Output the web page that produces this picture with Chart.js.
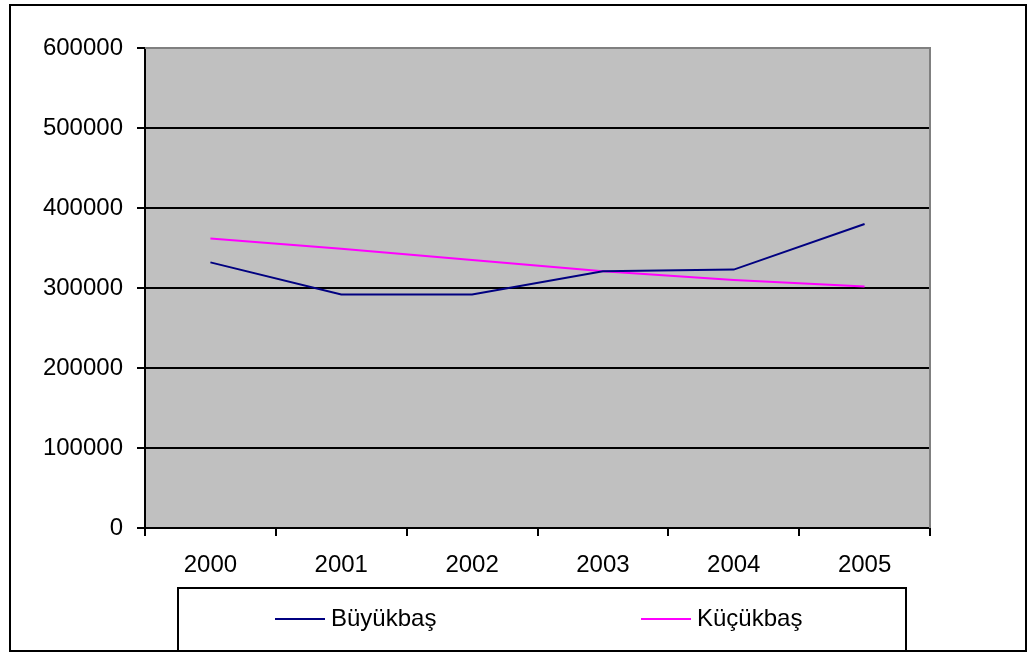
<!DOCTYPE html>
<html>
<head>
<meta charset="utf-8">
<script src="https://cdn.jsdelivr.net/npm/chart.js@4/dist/chart.umd.min.js"></script>
<style>
  html, body { margin: 0; padding: 0; background: #ffffff; }
  #wrap { width: 1033px; height: 652px; }
</style>
</head>
<body>
<div id="wrap"><canvas id="c" width="1033" height="652"></canvas></div>
<script>
// Yearly livestock counts
const years = ['2000', '2001', '2002', '2003', '2004', '2005'];
const buyukbas = [332000, 292000, 292000, 321000, 323000, 380000];
const kucukbas = [362000, 349000, 335000, 321000, 310000, 302000];
const yTicks = [0, 100000, 200000, 300000, 400000, 500000, 600000];

const FONT = { family: '"Liberation Sans", Arial, sans-serif', size: 24 };

// Grey plot background, frames and the boxed legend
const framePlugin = {
  id: 'frame',
  beforeDraw(chart) {
    const { ctx, chartArea: a } = chart;
    ctx.save();
    ctx.fillStyle = '#c0c0c0';
    ctx.fillRect(a.left, a.top, a.right - a.left, a.bottom - a.top);
    ctx.restore();
  },
  afterDraw(chart) {
    const { ctx, chartArea: a } = chart;
    ctx.save();
    // plot area top/right edge
    ctx.strokeStyle = '#808080';
    ctx.lineWidth = 2;
    ctx.beginPath();
    ctx.moveTo(a.left, a.top);
    ctx.lineTo(a.right, a.top);
    ctx.lineTo(a.right, a.bottom);
    ctx.stroke();

    // outer chart frame
    ctx.strokeStyle = '#000000';
    ctx.lineWidth = 2;
    ctx.strokeRect(10, 5, 1016, 646);

    // legend box
    ctx.strokeRect(178, 588, 728, 63);
    const items = [
      { x: 275, ds: chart.data.datasets[0] },
      { x: 641, ds: chart.data.datasets[1] }
    ];
    ctx.font = FONT.size + 'px ' + FONT.family;
    ctx.textBaseline = 'middle';
    ctx.textAlign = 'left';
    items.forEach(it => {
      ctx.strokeStyle = it.ds.borderColor;
      ctx.lineWidth = 2;
      ctx.beginPath();
      ctx.moveTo(it.x, 619);
      ctx.lineTo(it.x + 50, 619);
      ctx.stroke();
      ctx.fillStyle = '#000000';
      ctx.fillText(it.ds.label, it.x + 56, 619);
    });
    ctx.restore();
  }
};

new Chart(document.getElementById('c'), {
  type: 'line',
  data: {
    labels: years,
    datasets: [
      {
        label: 'Büyükbaş',
        data: buyukbas,
        borderColor: '#000080',
        borderWidth: 2,
        pointRadius: 0,
        tension: 0,
        fill: false
      },
      {
        label: 'Küçükbaş',
        data: kucukbas,
        borderColor: '#ff00ff',
        borderWidth: 2,
        pointRadius: 0,
        tension: 0,
        fill: false
      }
    ]
  },
  options: {
    responsive: false,
    animation: false,
    devicePixelRatio: 1,
    layout: { padding: { left: 0, top: 48, right: 103, bottom: 0 } },
    plugins: {
      legend: { display: false },
      tooltip: { enabled: false }
    },
    scales: {
      x: {
        type: 'category',
        offset: true,
        grid: {
          offset: true,
          drawOnChartArea: false,
          drawTicks: true,
          tickLength: 8,
          tickColor: '#000000',
          lineWidth: 2
        },
        border: { display: true, color: '#000000', width: 2 },
        ticks: {
          color: '#000000',
          font: FONT,
          padding: 15,
          maxRotation: 0,
          autoSkip: false
        },
        afterFit(scale) { scale.height = 124; }
      },
      y: {
        min: 0,
        max: 600000,
        afterBuildTicks(scale) { scale.ticks = yTicks.map(v => ({ value: v })); },
        grid: {
          color: '#000000',
          lineWidth: 2,
          drawTicks: true,
          tickLength: 8,
          tickColor: '#000000'
        },
        border: { display: true, color: '#000000', width: 2 },
        ticks: {
          color: '#000000',
          font: FONT,
          padding: 14,
          callback: v => String(v)
        },
        afterFit(scale) { scale.width = 145; }
      }
    }
  },
  plugins: [framePlugin]
});
</script>
</body>
</html>
